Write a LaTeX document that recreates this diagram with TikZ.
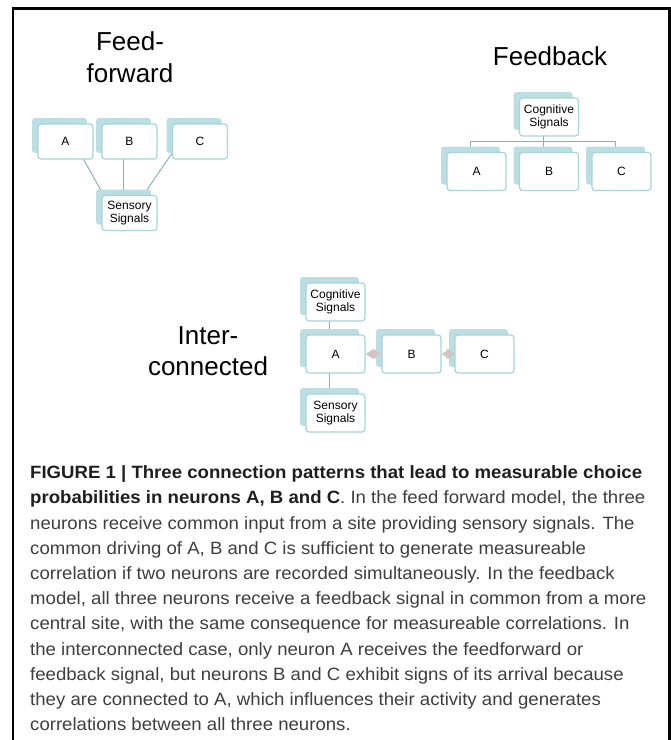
\documentclass[tikz,border=0pt]{standalone}
\usepackage{fontspec}
\setmainfont{Liberation Sans}
\newfontfamily\capfont[FakeStretch=1.045]{Liberation Sans}
\usetikzlibrary{positioning, shadows, backgrounds, arrows.meta}

\definecolor{boxedge}{RGB}{168,211,216}
\definecolor{boxshade}{RGB}{187,222,227}
\definecolor{linkcol}{RGB}{140,176,181}
\definecolor{arrowcol}{RGB}{208,196,199}
\definecolor{captext}{RGB}{62,62,62}
\definecolor{capbold}{RGB}{30,30,30}

\tikzstyle{box} = [rectangle, rounded corners=3pt, minimum width=59pt, minimum height=38pt, inner sep=1pt, align=center, draw=boxedge, line width=1.2pt, fill=white, font=\fontsize{12}{13.5}\selectfont, copy shadow={shadow xshift=-6pt, shadow yshift=6pt, fill=boxshade, draw=none}]
\tikzstyle{smallbox} = [box, minimum width=55pt, minimum height=35pt]
\tikzstyle{title} = [align=center, font=\fontsize{26}{31.5}\selectfont]
\tikzstyle{link} = [draw=linkcol, line width=1pt]
\tikzstyle{arrow} = [draw=arrowcol, fill=arrowcol, line width=1pt, {Triangle[width=10pt,length=8pt]}-{Triangle[width=10pt,length=8pt]}]

\begin{document}
\begin{tikzpicture}[x=1pt, y=1pt, node distance=67pt]
	\useasboundingbox (0,0) rectangle (671,-740);
	
	% Frame
	\draw [line width=2.2pt] (13,-745) -- (13,-8.5) -- (669.5,-8.5) -- (669.5,-745);
	
	% Feed-forward
	\node (fftitle) [title] at (130,-57) {Feed-\\forward};
	\node (ffA) [smallbox] at (65.5,-141.5) {A};
	\node (ffB) [smallbox, right of=ffA, node distance=64pt] {B};
	\node (ffC) [smallbox, right of=ffB, node distance=70.5pt] {C};
	\node (ffS) [smallbox, below of=ffB, node distance=71.5pt] {Sensory\\Signals};
	
	% Feedback
	\node (fbtitle) [title] at (550,-56) {Feedback};
	\node (fbA) [box] at (476.5,-171.5) {A};
	\node (fbB) [box, right of=fbA, node distance=72.5pt] {B};
	\node (fbC) [box, right of=fbB, node distance=72.5pt] {C};
	\node (fbcog) [box, above of=fbB, node distance=54.5pt] {Cognitive\\Signals};
	\coordinate (fbjoin) at ([xshift=-6pt, yshift=-24pt]fbcog.center);
	
	% Interconnected
	\node (ictitle) [title] at (208,-351) {Inter-\\connected};
	\node (icA) [box] at (335.5,-354) {A};
	\node (iccog) [box, above of=icA, node distance=52pt] {Cognitive\\Signals};
	\node (icS) [box, below of=icA, node distance=59pt] {Sensory\\Signals};
	\node (icB) [box, right of=icA, node distance=76pt] {B};
	\node (icC) [box, right of=icB, node distance=73pt] {C};
	
	% Links
	\begin{scope}[on background layer]
		\draw [link] ([xshift=8pt]ffA.center) -- ([xshift=-26pt]ffS.north);
		\draw [link] ([xshift=-6pt]ffB.center) -- ([xshift=-6pt]ffS.center);
		\draw [link] ([xshift=-20pt]ffC.center) -- ([xshift=14pt]ffS.north);
		\draw [link] ([xshift=-6pt]fbcog.center) -- (fbjoin);
		\draw [link] (fbjoin) -| ([xshift=-6pt]fbA.center);
		\draw [link] (fbjoin) -- ([xshift=-6pt]fbB.center);
		\draw [link] (fbjoin) -| ([xshift=-6pt]fbC.center);
		\draw [link] ([xshift=-6pt]iccog.center) -- ([xshift=-6pt]icA.center);
		\draw [link] ([xshift=-6pt]icA.center) -- ([xshift=-6pt]icS.center);
	\end{scope}
	\draw [arrow] (icA) -- (icB);
	\draw [arrow] (icB) -- (icC);
	
	% Caption
	\node (caption) [anchor=north west, align=left, inner sep=0pt, text=captext, font=\capfont\fontsize{17.8}{25.2}\selectfont] at (30,-465.5) {%
		{\color{capbold}\bfseries FIGURE 1 | Three connection patterns that lead to measurable choice}\\
		{\color{capbold}\bfseries probabilities in neurons A, B and C}. In the feed forward model, the three\\
		neurons receive common input from a site providing sensory signals. The\\
		common driving of A, B and C is sufficient to generate measureable\\
		correlation if two neurons are recorded simultaneously. In the feedback\\
		model, all three neurons receive a feedback signal in common from a more\\
		central site, with the same consequence for measureable correlations. In\\
		the interconnected case, only neuron A receives the feedforward or\\
		feedback signal, but neurons B and C exhibit signs of its arrival because\\
		they are connected to A, which influences their activity and generates\\
		correlations between all three neurons.};
	
\end{tikzpicture}
\end{document}
